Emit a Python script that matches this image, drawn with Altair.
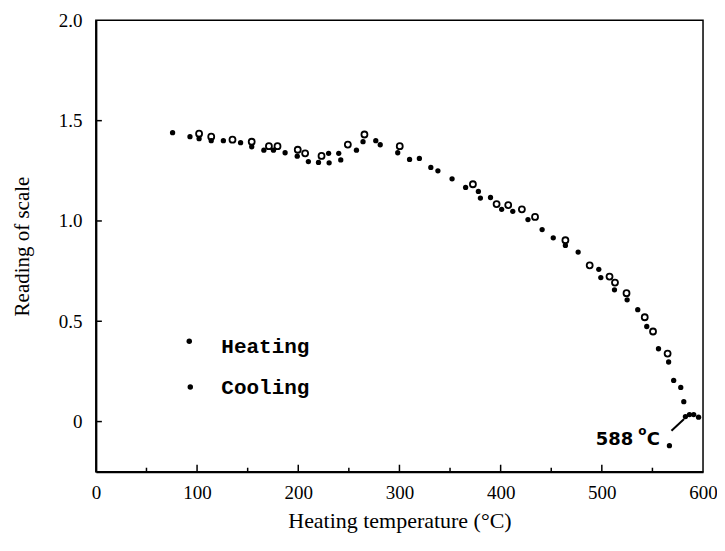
import altair as alt
import pandas as pd

# Heating (filled dots)
heat_t = [75.8, 93, 102, 114, 126, 143, 154, 166, 175.5, 187, 199, 210, 220, 230.5, 230,
          240, 242, 257.5, 264, 276.6, 281, 298.3, 310, 319.7, 331, 338, 352, 365.4, 378,
          380, 390, 401, 412, 427, 441, 452, 464, 476.6, 497, 499, 512.5, 525, 535.5,
          544.4, 556, 566, 571, 578, 581, 582.6, 586.6, 590.8, 595.6]
heat_r = [1.44, 1.42, 1.41, 1.40, 1.40, 1.39, 1.37, 1.353, 1.353, 1.34, 1.323, 1.296, 1.292,
          1.29, 1.337, 1.337, 1.304, 1.353, 1.395, 1.40, 1.38, 1.34, 1.307, 1.312, 1.267,
          1.25, 1.21, 1.167, 1.147, 1.114, 1.117, 1.058, 1.048, 1.007, 0.957, 0.916, 0.878,
          0.845, 0.759, 0.718, 0.657, 0.607, 0.558, 0.474, 0.363, 0.297, 0.205, 0.17, 0.099,
          0.025, 0.035, 0.035, 0.022]

# Cooling (open circles)
cool_t = [102, 114, 135, 154, 171, 179.5, 199.5, 206.8, 223, 249, 265.4, 300.3, 372.6, 396,
          407.5, 421, 434, 464, 488, 507.6, 513, 524.4, 542.4, 550.6, 565]
cool_r = [1.435, 1.42, 1.405, 1.395, 1.373, 1.373, 1.355, 1.337, 1.324, 1.381, 1.431, 1.373,
          1.183, 1.084, 1.079, 1.058, 1.02, 0.904, 0.779, 0.723, 0.693, 0.64, 0.52, 0.449,
          0.339]

x_labels = [0, 100, 200, 300, 400, 500, 600]
y_labels = [0, 0.5, 1.0, 1.5, 2.0]
x_ticks_major = [100, 200, 300, 400, 500]
x_ticks_minor = [50, 150, 250, 350, 450, 550]
y_ticks = [0, 0.5, 1.0, 1.5]

legend_names = ["Heating", "Cooling"]
legend_marker_t = [92.3, 93.3]
legend_marker_r = [0.40, 0.172]
legend_text_t = [124, 124]
legend_text_r = [0.37, 0.167]

ann_text = ["588", "o", "C"]
ann_t = [494, 540, 544.5]
ann_r = [-0.117, -0.046, -0.117]
arrow_t = [568.8]
arrow_r = [-0.046]
arrow_t2 = [581.3]
arrow_r2 = [0.013]
stray_t = [566.8]
stray_r = [-0.12]

SERIF = "Liberation Serif"

xscale = alt.Scale(domain=[0, 600], nice=False, zero=False)
yscale = alt.Scale(domain=[-0.25, 2.0], nice=False, zero=False)

X = alt.X("t:Q", scale=xscale, axis=alt.Axis(
    values=x_labels, title="Heating temperature (°C)", format="d", grid=False,
    ticks=False, domainWidth=2, domainColor="black", labelFont=SERIF, labelFontSize=19,
    labelColor="black", labelPadding=12, labelFlush=False, labelOverlap=False,
    titleFont=SERIF, titleFontSize=22, titleFontWeight="normal", titleColor="black",
    titlePadding=8))
Y = alt.Y("r:Q", scale=yscale, axis=alt.Axis(
    values=y_labels, title="Reading of scale", grid=False, ticks=False, domainWidth=2,
    domainColor="black", labelFont=SERIF, labelFontSize=19, labelColor="black",
    labelPadding=14, labelFlush=False, labelOverlap=False,
    labelExpr="datum.value == 0 ? '0' : format(datum.value, '.1f')",
    titleFont=SERIF, titleFontSize=21, titleFontWeight="normal", titleColor="black",
    titlePadding=26))

heat_df = pd.DataFrame({"t": heat_t, "r": heat_r})
cool_df = pd.DataFrame({"t": cool_t, "r": cool_r})

heat = alt.Chart(heat_df).mark_point(filled=True, size=28, color="black", opacity=1).encode(x=X, y=Y)
cool = alt.Chart(cool_df).mark_point(filled=False, size=36, color="black", strokeWidth=1.8,
                                     opacity=1).encode(x=X, y=Y)

xmaj = alt.Chart(pd.DataFrame({"t": x_ticks_major})).mark_rule(color="black", strokeWidth=1.5).encode(
    x=X, y=alt.value(452), y2=alt.value(445))
xmin = alt.Chart(pd.DataFrame({"t": x_ticks_minor})).mark_rule(color="black", strokeWidth=1.5).encode(
    x=X, y=alt.value(452), y2=alt.value(448))
yt = alt.Chart(pd.DataFrame({"r": y_ticks})).mark_rule(color="black", strokeWidth=1.5).encode(
    y=Y, x=alt.value(0), x2=alt.value(6))

leg_df = pd.DataFrame({"t": legend_marker_t, "r": legend_marker_r})
leg_pts = alt.Chart(leg_df).mark_point(filled=True, size=30, color="black", opacity=1).encode(x=X, y=Y)
legt_df = pd.DataFrame({"t": legend_text_t, "r": legend_text_r, "txt": legend_names})
leg_txt = alt.Chart(legt_df).mark_text(align="left", baseline="middle", font="Liberation Mono",
                                       fontWeight="bold", fontSize=21, color="black").encode(
    x=X, y=Y, text="txt:N")

ann_df = pd.DataFrame({"t": ann_t, "r": ann_r, "txt": ann_text})
ann_main = alt.Chart(ann_df[ann_df.txt != "o"]).mark_text(
    align="left", baseline="alphabetic", font="DejaVu Sans", fontWeight="bold",
    fontSize=18, color="black").encode(x=X, y=Y, text="txt:N")
ann_deg = alt.Chart(ann_df[ann_df.txt == "o"]).mark_text(
    align="center", baseline="middle", font="DejaVu Sans", fontWeight="bold",
    fontSize=12, color="black").encode(x=X, y=Y, text="txt:N")
arrow = alt.Chart(pd.DataFrame({"t": arrow_t, "r": arrow_r, "t2": arrow_t2, "r2": arrow_r2})).mark_rule(
    color="black", strokeWidth=2).encode(x=X, y=Y, x2="t2:Q", y2="r2:Q")
stray = alt.Chart(pd.DataFrame({"t": stray_t, "r": stray_r})).mark_point(
    filled=True, size=28, color="black", opacity=1).encode(x=X, y=Y)

chart = alt.layer(heat, cool, xmaj, xmin, yt, leg_pts, leg_txt, ann_main, ann_deg, arrow, stray).properties(
    width=608, height=452, autosize="none", background="white",
    padding={"left": 88, "top": 12, "right": 14, "bottom": 70},
).configure_view(stroke="black", strokeWidth=1.5)

chart.save("out.html", embed_options={"renderer": "svg", "actions": False})
